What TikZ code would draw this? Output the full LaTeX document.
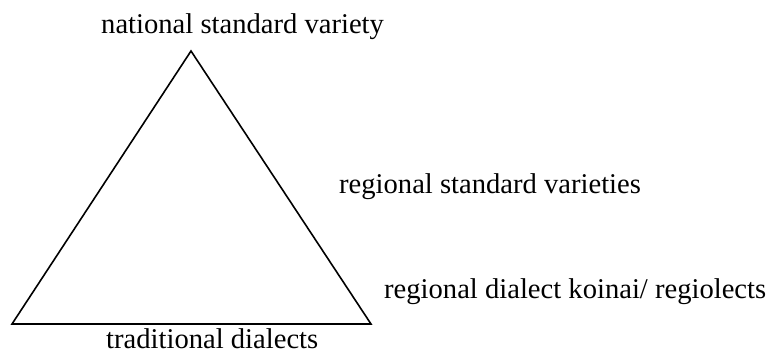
\documentclass[tikz,border=0pt]{standalone}
\usepackage{fontspec}
\setmainfont{Liberation Serif}
\begin{document}
\begin{tikzpicture}[x=1pt,y=-1pt,
  lbl/.style={anchor=base west,inner sep=0pt,font=\fontsize{28.6}{34}\selectfont},
  edge/.style={line width=1.6pt,line join=miter}]
\useasboundingbox (0,0) rectangle (779,354);
\coordinate (top) at (191,51);
\coordinate (bl) at (12,324);
\coordinate (br) at (371,324);
\draw[edge] (top) -- (bl) -- (br) -- cycle;
\node[lbl] (nat) at (101,33) {national standard variety};
\node[lbl] (rsv) at (339,193) {regional standard varieties};
\node[lbl] (rdk) at (384,298) {regional dialect koinai/ regiolects};
\node[lbl] (trd) at (106,348) {traditional dialects};
\end{tikzpicture}
\end{document}
